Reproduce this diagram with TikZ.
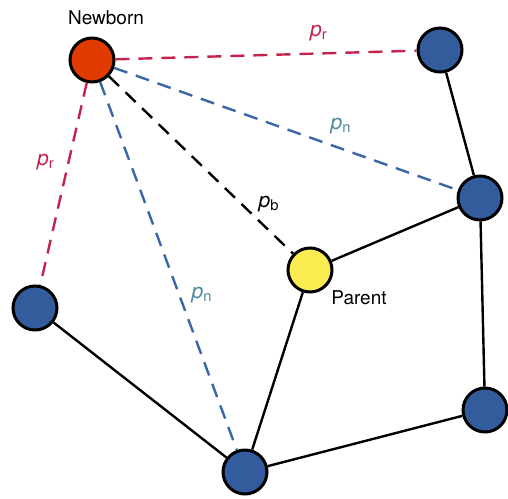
\documentclass[tikz,border=0pt]{standalone}
\usepackage{fontspec}
\setmainfont{TeX Gyre Heros}
\definecolor{nodeblue}{HTML}{335C9C}
\definecolor{newred}{HTML}{E03A00}
\definecolor{parentyellow}{HTML}{FAEB50}
\definecolor{linkred}{HTML}{C4244C}
\definecolor{linkblue}{HTML}{3A66A8}
\definecolor{labelteal}{HTML}{4A8A9C}
\newcommand{\prob}[1]{\textit{p}\textsubscript{#1}}
\begin{document}
\begin{tikzpicture}[x=0.5pt,y=-0.5pt,
   vertex/.style={circle,draw,line width=1.5pt,minimum size=22pt,inner sep=0pt,fill=nodeblue},
   link/.style={line width=1.2pt},
   dlink/.style={line width=1.2pt,dash pattern=on 7pt off 4.5pt},
   lbl/.style={font=\fontsize{9.5}{11}\selectfont},
   plbl/.style={font=\fontsize{10.5}{12}\selectfont}]
\useasboundingbox (0,0) rectangle (508,498);
\node[vertex,fill=newred] (newborn) at (92,60) {};
\node[vertex] (topright) at (440,50) {};
\node[vertex] (right) at (480,198) {};
\node[vertex,fill=parentyellow] (parent) at (310,270) {};
\node[vertex] (left) at (35,308) {};
\node[vertex] (botright) at (485,410) {};
\node[vertex] (bottom) at (245,472) {};
\node[lbl] at (106,18) {Newborn};
\node[lbl] at (359,298) {Parent};
% solid links
\draw[link] (topright) -- (right);
\draw[link] (right) -- (parent);
\draw[link] (right) -- (botright);
\draw[link] (botright) -- (bottom);
\draw[link] (bottom) -- (parent);
\draw[link] (bottom) -- (left);
% newborn links
\draw[dlink,linkred] (newborn) -- (topright);
\draw[dlink,linkred] (newborn) -- (left);
\draw[dlink,linkblue] (newborn) -- (right);
\draw[dlink,linkblue] (newborn) -- (bottom);
\draw[dlink] (newborn) -- (parent);
\node[plbl,text=linkred] at (319,33) {\prob{r}};
\node[plbl,text=linkred] at (46,162) {\prob{r}};
\node[plbl,text=labelteal] at (341,126) {\prob{n}};
\node[plbl,text=labelteal] at (202,295) {\prob{n}};
\node[plbl] at (269,204) {\prob{b}};
\end{tikzpicture}
\end{document}
